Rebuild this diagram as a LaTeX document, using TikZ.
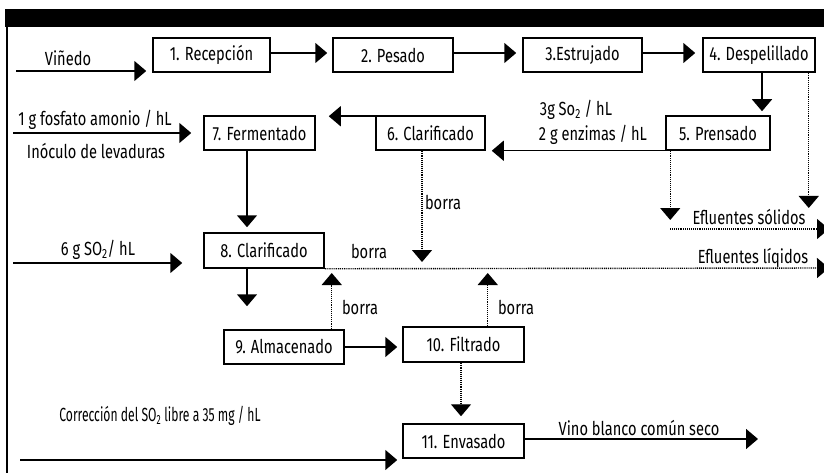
\documentclass[tikz,border=0pt]{standalone}
\usepackage{fontspec}
\setmainfont[FakeStretch=0.77]{Fira Sans}
\usetikzlibrary{arrows.meta,calc}
\begin{document}
\begin{tikzpicture}[x=1pt,y=-1pt,
  font=\fontsize{19}{22}\selectfont,
  box/.style={draw, line width=1.5pt, minimum height=34pt, inner sep=0pt},
  arr/.style={line width=1.5pt, -{Triangle[length=12pt,width=20pt]}},
  dotarr/.style={arr, line width=1.4pt, dash pattern=on 1pt off 0.9pt},
  lab/.style={inner sep=0pt}]
\useasboundingbox (0,0) rectangle (824,473);
% frame
\fill (5,9) rectangle (824,27);
\draw[line width=1.8pt] (7,27) -- (7,473);
% boxes
\node[box, minimum width=117pt] (b1) at (211.5,55) {1. Recepción};
\node[box, minimum width=120pt] (b2) at (393,55) {2. Pesado};
\node[box, minimum width=119pt] (b3) at (582.5,55) {3.Estrujado};
\node[box, minimum width=112pt] (b4) at (759,55) {4. Despelillado};
\node[box, minimum width=104pt] (b5) at (718,133) {5. Prensado};
\node[box, minimum width=109pt] (b6) at (430.5,133) {6. Clarificado};
\node[box, minimum width=111pt] (b7) at (259.5,133) {7. Fermentado};
\node[box, minimum width=120pt, minimum height=35pt] (b8) at (264,250.5) {8. Clarificado};
\node[box, minimum width=120pt] (b9) at (284,347) {9. Almacenado};
\node[box, minimum width=121pt, minimum height=35pt] (b10) at (463.5,344.5) {10. Filtrado};
\node[box, minimum width=121pt] (b11) at (463.5,441) {11. Envasado};
% labels
\node[lab] (tvin) at (68,58) {Viñedo};
\node[lab] (tfos) at (95,120) {1 g fosfato amonio / hL};
\node[lab] (tino) at (96,151) {Inóculo de levaduras};
\node[lab] (tso3) at (576,110) {3g So\textsubscript{2} / hL};
\node[lab] (tenz) at (593,135) {2 g enzimas / hL};
\node[lab] (tso6) at (98,250) {6 g SO\textsubscript{2}/ hL};
\node[lab] (tb8) at (369,251) {borra};
\node[lab] (tb9) at (360,307) {borra};
\node[lab] (tb6) at (443,202) {borra};
\node[lab] (tb10) at (516,307) {borra};
\node[lab] (tsol) at (749,217) {Efluentes sólidos};
\node[lab] (tliq) at (753,258) {Efluentes líqidos};
\node[lab] (tcor) at (160,416) {\scalebox{0.83}[1]{Corrección del SO\textsubscript{2} libre a 35 mg / hL}};
\node[lab] (tvino) at (639,428) {Vino blanco común seco};
% coordinates for free ends
\coordinate (cvin) at (16,71);
\coordinate (cfos) at (13,133);
\coordinate (cso6) at (13,263);
\coordinate (ccor) at (20,460);
\coordinate (liqE) at (829,268);
\coordinate (solS) at (670,229);
\coordinate (solE) at (829,229);
\coordinate (vinoE) at (758,439);
% main flow
\draw[arr, shorten >=6pt] (cvin) -- (cvin -| b1.west);
\draw[arr, shorten >=5pt] ([yshift=2pt]b1.east) -- ([yshift=2pt]b2.west);
\draw[arr, shorten >=6pt] ([yshift=2pt]b2.east) -- ([yshift=2pt]b3.west);
\draw[arr, shorten >=7pt] ([yshift=2pt]b3.east) -- ([yshift=2pt]b4.west);
\draw[arr, shorten >=4pt] ([xshift=3pt]b4.south) -- ([xshift=3pt]b4.south |- b5.north);
\draw[arr, shorten >=6pt] (b5.south west) -- (b5.south west -| b6.east);
\coordinate (c67) at ([xshift=12pt,yshift=-1pt]b6.north west);
\draw[arr, shorten >=13pt] (c67) -- (c67 -| b7.east);
\draw[arr, shorten >=12pt] (cfos) -- (cfos -| b7.west);
\draw[arr, shorten >=5pt] ([xshift=-12.5pt]b7.south) -- ([xshift=-12.5pt]b7.south |- b8.north);
\draw[arr, shorten >=21pt] (cso6) -- (cso6 -| b8.west);
\draw[arr, shorten >=23pt] ([xshift=-17pt]b8.south) -- ([xshift=-17pt]b8.south |- b9.north);
\draw[arr, shorten >=5pt] (b9.east) -- (b9.east -| b10.west);
\draw[dotarr, shorten >=7pt] ([xshift=-2.5pt]b10.south) -- ([xshift=-2.5pt]b10.south |- b11.north);
\draw[arr] ([yshift=2pt]b11.east) -- (vinoE);
\draw[arr, shorten >=5pt] (ccor) -- (ccor -| b11.west);
% effluents
\draw[dotarr] (b8.south east) -- (liqE);
\draw[dotarr, shorten >=6pt] ([xshift=-8.5pt]b6.south) -- ([xshift=-8.5pt]b6.south |- liqE);
\draw[dotarr, shorten >=5pt] ([xshift=-13pt]b9.north east) -- ([xshift=-13pt]b9.north east |- liqE);
\draw[dotarr, shorten >=5pt] ([xshift=-37pt]b10.north east) -- ([xshift=-37pt]b10.north east |- liqE);
\draw[dotarr, shorten >=9pt] ([xshift=5pt]b5.south west) -- ([xshift=5pt]b5.south west |- solS);
\draw[dotarr, shorten >=21pt] ([xshift=-7pt]b4.south east) -- ([xshift=-7pt]b4.south east |- solS);
\draw[dotarr] (solS) -- (solE);
\end{tikzpicture}
\end{document}
